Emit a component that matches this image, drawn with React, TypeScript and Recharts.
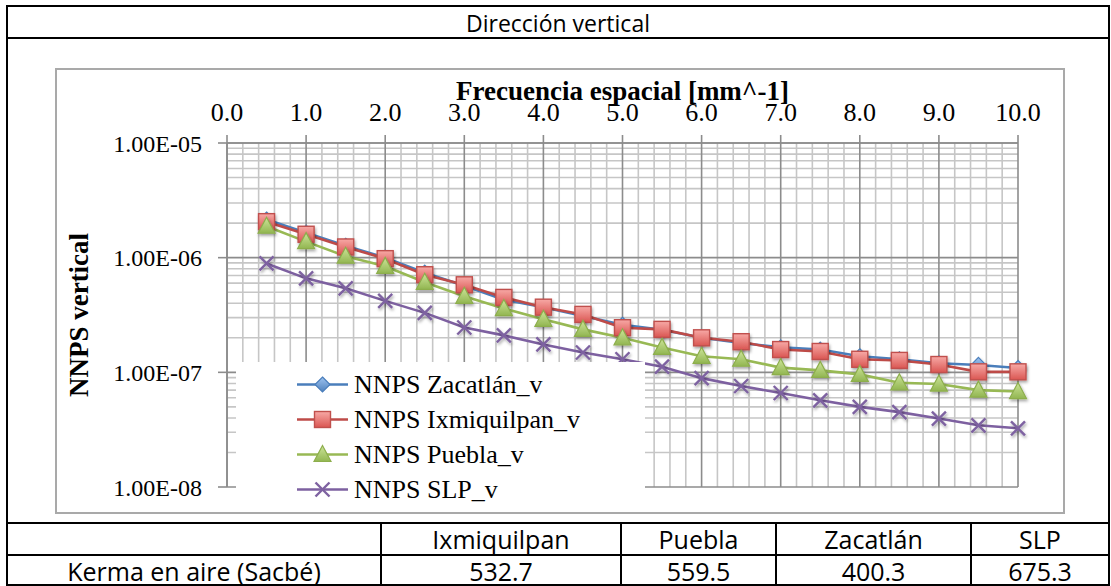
import React from 'react';
import { LineChart, Line, XAxis, YAxis, ReferenceLine, Legend } from 'recharts';

// NNPS (vertical direction) per spatial frequency, one array per site
const frequency = [0.5, 1.0, 1.5, 2.0, 2.5, 3.0, 3.5, 4.0, 4.5, 5.0, 5.5, 6.0, 6.5, 7.0, 7.5, 8.0, 8.5, 9.0, 9.5, 10.0];
const zacatlan = [2.15e-6, 1.65e-6, 1.27e-6, 1.0e-6, 7.4e-7, 5.7e-7, 4.3e-7, 3.7e-7, 3.1e-7, 2.6e-7, 2.35e-7, 2.0e-7, 1.8e-7, 1.65e-7, 1.58e-7, 1.38e-7, 1.3e-7, 1.2e-7, 1.16e-7, 1.09e-7];
const ixmiquilpan = [2.06e-6, 1.6e-6, 1.24e-6, 9.8e-7, 7.1e-7, 5.8e-7, 4.5e-7, 3.7e-7, 3.2e-7, 2.45e-7, 2.37e-7, 2.0e-7, 1.85e-7, 1.58e-7, 1.52e-7, 1.3e-7, 1.27e-7, 1.17e-7, 1.01e-7, 1.01e-7];
const puebla = [1.88e-6, 1.38e-6, 1.03e-6, 8.4e-7, 6.1e-7, 4.6e-7, 3.6e-7, 2.9e-7, 2.37e-7, 2.0e-7, 1.65e-7, 1.38e-7, 1.3e-7, 1.1e-7, 1.04e-7, 9.6e-8, 8.1e-8, 7.9e-8, 7.0e-8, 6.8e-8];
const slp = [8.9e-7, 6.6e-7, 5.4e-7, 4.2e-7, 3.3e-7, 2.46e-7, 2.1e-7, 1.75e-7, 1.49e-7, 1.3e-7, 1.12e-7, 8.9e-8, 7.6e-8, 6.6e-8, 5.7e-8, 5.0e-8, 4.5e-8, 3.95e-8, 3.45e-8, 3.25e-8];

const xTicks = [0, 1, 2, 3, 4, 5, 6, 7, 8, 9, 10];
const yTicks = [1e-8, 1e-7, 1e-6, 1e-5];

// air kerma table under the chart
const kermaSites = ['Ixmiquilpan', 'Puebla', 'Zacatlán', 'SLP'];
const kermaValues = [532.7, 559.5, 400.3, 675.3];

const data = frequency.map((f, i) => ({
  f,
  zacatlan: zacatlan[i],
  ixmiquilpan: ixmiquilpan[i],
  puebla: puebla[i],
  slp: slp[i],
}));

// minor grid: every 0.2 on x, 2..9 per decade on y
const xMinor: number[] = [];
for (let i = 1; i < 50; i++) if (i % 5 !== 0) xMinor.push(i / 5);
const yMinor: number[] = [];
for (let e = -8; e < -5; e++) for (let m = 2; m <= 9; m++) yMinor.push(m * Math.pow(10, e));

const SERIF = '"Liberation Serif", "Times New Roman", serif';
const SANS = '"Open Sans", sans-serif';
const MINOR = '#C6C6C6';
const MAJOR = '#8C8C8C';

type MarkerKind = 'diamond' | 'square' | 'triangle' | 'cross';

const series: { key: string; name: string; stroke: string; marker: MarkerKind }[] = [
  { key: 'zacatlan', name: 'NNPS Zacatlán_v', stroke: '#4A7EBB', marker: 'diamond' },
  { key: 'ixmiquilpan', name: 'NNPS Ixmiquilpan_v', stroke: '#BE4B48', marker: 'square' },
  { key: 'puebla', name: 'NNPS Puebla_v', stroke: '#98B954', marker: 'triangle' },
  { key: 'slp', name: 'NNPS SLP_v', stroke: '#7D60A0', marker: 'cross' },
];

const Marker = ({ kind, cx, cy, shadow = true }: { kind: MarkerKind; cx: number; cy: number; shadow?: boolean }) => {
  const filter = shadow ? 'url(#mkShadow)' : undefined;
  if (kind === 'diamond') {
    const r = 7.5;
    return (
      <polygon
        points={`${cx},${cy - r} ${cx + r},${cy} ${cx},${cy + r} ${cx - r},${cy}`}
        fill="url(#gBlue)" stroke="#4A7EBB" strokeWidth={1.2} filter={filter}
      />
    );
  }
  if (kind === 'square') {
    const s = 8;
    return (
      <rect x={cx - s} y={cy - s} width={s * 2} height={s * 2}
        fill="url(#gRed)" stroke="#C0504D" strokeWidth={1.4} filter={filter} />
    );
  }
  if (kind === 'triangle') {
    return (
      <polygon
        points={`${cx},${cy - 9} ${cx + 8.5},${cy + 7} ${cx - 8.5},${cy + 7}`}
        fill="url(#gGreen)" stroke="#8DAE4C" strokeWidth={1.2} filter={filter}
      />
    );
  }
  const r = 7;
  return (
    <g stroke="#7E62A1" strokeWidth={2.4} filter={filter}>
      <line x1={cx - r} y1={cy - r} x2={cx + r} y2={cy + r} />
      <line x1={cx - r} y1={cy + r} x2={cx + r} y2={cy - r} />
    </g>
  );
};

const fmtExp = (v: number) => {
  const e = Math.round(Math.log10(v));
  const m = v / Math.pow(10, e);
  const sign = e < 0 ? '-' : '+';
  const abs = Math.abs(e);
  return `${m.toFixed(2)}E${sign}${abs < 10 ? '0' : ''}${abs}`;
};

const LegendBox = () => (
  <div style={{ background: '#fff', width: 409, height: 150, paddingTop: 5, boxSizing: 'border-box' }}>
    {series.map((s) => (
      <div key={s.key} style={{ display: 'flex', alignItems: 'center', height: 35 }}>
        <svg width={51} height={35} style={{ marginLeft: 61, overflow: 'visible' }}>
          <line x1={0} y1={17.5} x2={51} y2={17.5} stroke={s.stroke} strokeWidth={2.5} />
          <Marker kind={s.marker} cx={25.5} cy={17.5} shadow={false} />
        </svg>
        <span style={{ marginLeft: 6, fontFamily: SERIF, fontSize: 26, color: '#000', lineHeight: '35px' }}>{s.name}</span>
      </div>
    ))}
  </div>
);

const line = (x: number, y: number, w: number, h: number, color = '#000') => (
  <div style={{ position: 'absolute', left: x, top: y, width: w, height: h, background: color }} />
);

const colEdges = [7, 381, 621, 776, 971, 1109];
const cellText: React.CSSProperties = {
  position: 'absolute', display: 'flex', alignItems: 'center', justifyContent: 'center',
  fontFamily: SANS, fontSize: 25, color: '#000',
};

export default function App() {
  return (
    <div style={{ position: 'absolute', left: 0, top: 0, width: 1111, height: 586, background: '#fff', overflow: 'hidden' }}>
      {/* title row */}
      <div style={{ ...cellText, left: 7, top: 7, width: 1102, height: 31, fontSize: 23 }}>
        Dirección vertical
      </div>

      {/* chart area frame */}
      <div style={{ position: 'absolute', left: 55, top: 68, width: 1006, height: 442, border: '2px solid #A9A9A9', background: '#fff' }} />

      <div style={{ position: 'absolute', left: 0, top: 0 }}>
        <LineChart width={1111} height={586} data={data} margin={{ top: 81, right: 93, bottom: 99, left: 55 }}>
          <defs>
            <linearGradient id="gBlue" x1="0" y1="0" x2="0" y2="1">
              <stop offset="0%" stopColor="#9DC3F0" />
              <stop offset="100%" stopColor="#4F81BD" />
            </linearGradient>
            <linearGradient id="gRed" x1="0" y1="0" x2="0" y2="1">
              <stop offset="0%" stopColor="#F7A9A6" />
              <stop offset="100%" stopColor="#DA5652" />
            </linearGradient>
            <linearGradient id="gGreen" x1="0" y1="0" x2="0" y2="1">
              <stop offset="0%" stopColor="#CDE59A" />
              <stop offset="100%" stopColor="#92B651" />
            </linearGradient>
            <filter id="mkShadow" x="-50%" y="-50%" width="200%" height="200%">
              <feDropShadow dx="1" dy="2" stdDeviation="1.6" floodColor="#000" floodOpacity="0.35" />
            </filter>
          </defs>
          {xMinor.map((v) => (
            <ReferenceLine key={`xm${v}`} x={v} stroke={MINOR} strokeWidth={1.6} zIndex={-100} />
          ))}
          {yMinor.map((v) => (
            <ReferenceLine key={`ym${v}`} y={v} stroke={MINOR} strokeWidth={1.6} zIndex={-100} />
          ))}
          {xTicks.map((v) => (
            <ReferenceLine key={`xM${v}`} x={v} stroke={MAJOR} strokeWidth={1.6} zIndex={-90} />
          ))}
          {yTicks.map((v) => (
            <ReferenceLine key={`yM${v}`} y={v} stroke={MAJOR} strokeWidth={1.6} zIndex={-90} />
          ))}
          <XAxis
            dataKey="f"
            type="number"
            orientation="top"
            domain={[0, 10]}
            ticks={xTicks}
            tickFormatter={(v: number) => v.toFixed(1)}
            height={62}
            tickSize={8}
            tickMargin={14}
            axisLine={{ stroke: MAJOR, strokeWidth: 1.6 }}
            tickLine={{ stroke: MAJOR, strokeWidth: 1.6 }}
            tick={{ fontSize: 26, fill: '#000', fontFamily: SERIF }}
            label={{ value: 'Frecuencia espacial [mm^-1]', position: 'insideTop', offset: 0, style: { fontSize: 27, fontWeight: 'bold', fill: '#000', fontFamily: SERIF } }}
          />
          <YAxis
            scale="log"
            domain={[1e-8, 1e-5]}
            ticks={yTicks}
            allowDataOverflow
            tickFormatter={fmtExp}
            width={172}
            tickSize={9}
            tickMargin={16}
            axisLine={{ stroke: MAJOR, strokeWidth: 1.6 }}
            tickLine={{ stroke: MAJOR, strokeWidth: 1.6 }}
            tick={{ fontSize: 24, fill: '#000', fontFamily: SERIF }}
            label={{ value: 'NNPS vertical', angle: -90, position: 'insideLeft', offset: 23, style: { textAnchor: 'middle', fontSize: 27, fontWeight: 'bold', fill: '#000', fontFamily: SERIF } }}
          />
          {series.map((s) => (
            <Line
              key={s.key}
              dataKey={s.key}
              name={s.name}
              type="linear"
              stroke={s.stroke}
              strokeWidth={2.6}
              isAnimationActive={false}
              dot={(p: any) => <Marker key={`${s.key}-${p.index}`} kind={s.marker} cx={p.cx} cy={p.cy} />}
              activeDot={false}
            />
          ))}
          <Legend
            layout="vertical"
            align="center"
            verticalAlign="middle"
            content={() => <LegendBox />}
            wrapperStyle={{ left: 236, top: 362, width: 409, height: 150 }}
          />
        </LineChart>
      </div>

      {/* frame lines */}
      {line(6, 5, 1104, 2)}
      {line(6, 37, 1104, 2)}
      {line(6, 5, 2, 581)}
      {line(1108, 5, 2, 581)}
      {line(6, 522, 1104, 2)}
      {line(6, 554, 1104, 2)}
      {line(6, 584, 1104, 2)}
      {colEdges.slice(1, -1).map((x) => (
        <React.Fragment key={x}>{line(x - 1, 522, 2, 64)}</React.Fragment>
      ))}

      {/* air kerma table */}
      {kermaSites.map((name, i) => (
        <div key={name} style={{ ...cellText, left: colEdges[i + 1], top: 524, width: colEdges[i + 2] - colEdges[i + 1], height: 30 }}>
          {name}
        </div>
      ))}
      <div style={{ ...cellText, left: colEdges[0], top: 556, width: colEdges[1] - colEdges[0], height: 29 }}>
        Kerma en aire (Sacbé)
      </div>
      {kermaValues.map((v, i) => (
        <div key={i} style={{ ...cellText, left: colEdges[i + 1], top: 556, width: colEdges[i + 2] - colEdges[i + 1], height: 29 }}>
          {v.toFixed(1)}
        </div>
      ))}
    </div>
  );
}
